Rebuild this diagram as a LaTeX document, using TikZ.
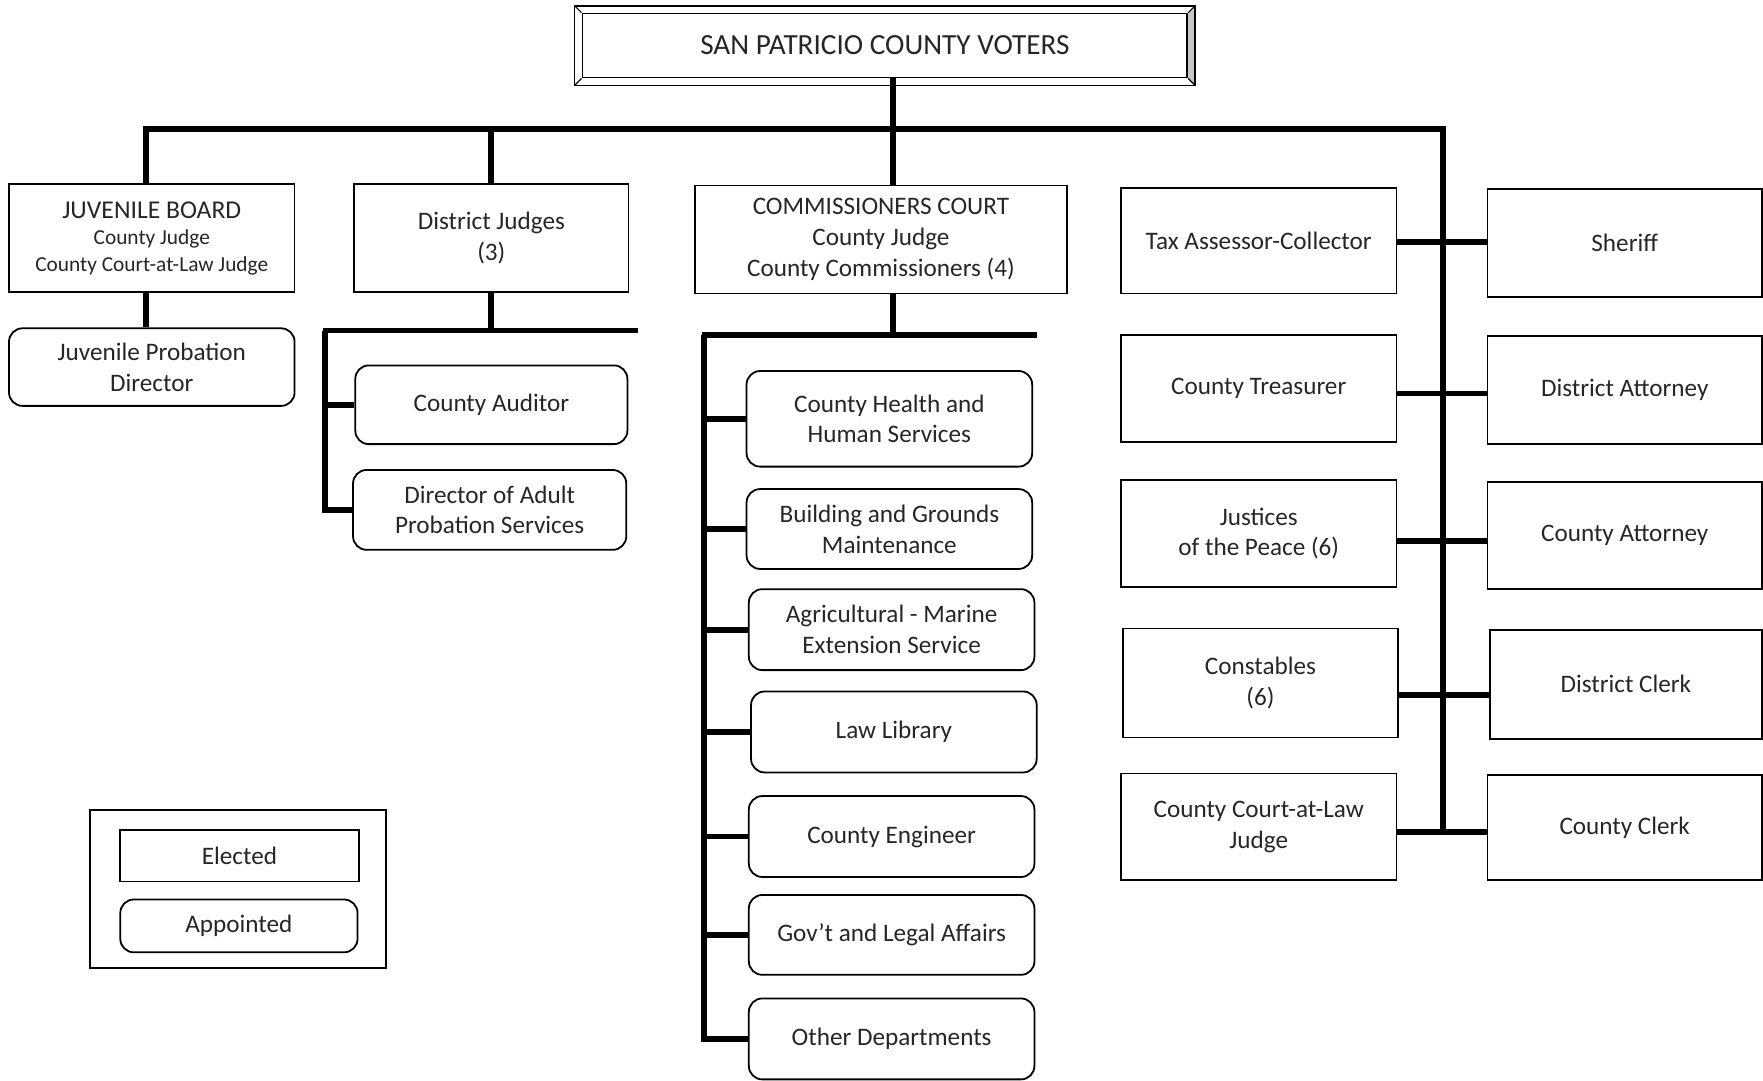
\documentclass[tikz,border=0pt]{standalone}
\usepackage{fontspec}
\setmainfont{Carlito}
\begin{document}
\begin{tikzpicture}[x=0.5pt,y=-0.5pt,
  elect/.style={draw, line width=0.8pt, align=center, inner sep=2pt, text=black!85,
    font=\fontsize{11.2}{13.7}\selectfont},
  appt/.style={elect, rounded corners=6pt},
  conn/.style={line width=2.6pt},
]
\useasboundingbox (0,0) rectangle (1568,961);

% ---------- top box ----------
\node[elect, minimum width=269pt, minimum height=28.5pt, font=\fontsize{13}{15}\selectfont] (voters) at (787,40.5) {SAN PATRICIO COUNTY VOTERS};
\coordinate (onw) at (511,5);
\coordinate (ose) at (1063,76);
\fill[gray!45] (voters.north east) -- (onw -| ose) -- (ose) -- (voters.south east) -- cycle;
\draw[line width=0.8pt] (onw) rectangle (ose);
\draw[line width=0.5pt] (onw) -- (voters.north west)
  (onw -| ose) -- (voters.north east)
  (ose) -- (voters.south east)
  (ose -| onw) -- (voters.south west);

% ---------- first level ----------
\node[elect, minimum width=127pt, minimum height=48pt, font=\fontsize{9.5}{11.8}\selectfont] (jb) at (135,212)
  {{\fontsize{11.4}{13}\selectfont JUVENILE BOARD}\\County Judge\\County Court-at-Law Judge};
\node[appt, minimum width=127pt, minimum height=34.5pt] (jpd) at (135,326.5) {Juvenile Probation\\Director};
\node[elect, minimum width=122pt, minimum height=48pt] (dj) at (437,212) {District Judges\\(3)};
\node[appt, minimum width=121pt, minimum height=35pt] (ca) at (437,360) {County Auditor};
\node[appt, minimum width=121.5pt, minimum height=35.5pt] (dap) at (435.5,453.5) {Director of Adult\\Probation Services};
\node[elect, minimum width=165.5pt, minimum height=48pt] (cc) at (783.5,213) {COMMISSIONERS COURT\\County Judge\\County Commissioners (4)};

% ---------- commissioners departments ----------
\node[appt, minimum width=127pt, minimum height=42.5pt] (chhs) at (791,372.5) {County Health and\\Human Services};
\node[appt, minimum width=127pt, minimum height=35.5pt] (bgm) at (791,470.5) {Building and Grounds\\Maintenance};
\node[appt, minimum width=127pt, minimum height=36pt] (ame) at (793,560) {Agricultural - Marine\\Extension Service};
\node[appt, minimum width=127pt, minimum height=36pt] (ll) at (795,651) {Law Library};
\node[appt, minimum width=127pt, minimum height=36pt] (ce) at (793,744) {County Engineer};
\node[appt, minimum width=127pt, minimum height=35.5pt] (gla) at (793,831.5) {Gov't and Legal Affairs};
\node[appt, minimum width=127pt, minimum height=36pt] (od) at (793,924) {Other Departments};

% ---------- elected officials ----------
\node[elect, minimum width=122.5pt, minimum height=47pt] (tac) at (1119.5,214) {Tax Assessor-Collector};
\node[elect, minimum width=122.5pt, minimum height=47.5pt] (ct) at (1119.5,345.5) {County Treasurer};
\node[elect, minimum width=122.5pt, minimum height=47.5pt] (jp) at (1119.5,474.5) {Justices\\of the Peace (6)};
\node[elect, minimum width=122pt, minimum height=48.5pt] (cons) at (1121,607.5) {Constables\\(6)};
\node[elect, minimum width=122.5pt, minimum height=47.5pt] (cclj) at (1119.5,735.5) {County Court-at-Law\\Judge};

\node[elect, minimum width=122pt, minimum height=48pt] (sh) at (1445,216) {Sheriff};
\node[elect, minimum width=122pt, minimum height=48pt] (da) at (1445,347) {District Attorney};
\node[elect, minimum width=122pt, minimum height=47.5pt] (coa) at (1445,476.5) {County Attorney};
\node[elect, minimum width=121pt, minimum height=48.5pt] (dc) at (1446,608.5) {District Clerk};
\node[elect, minimum width=122pt, minimum height=47pt] (coc) at (1445,736) {County Clerk};

% ---------- legend ----------
\node[draw, line width=0.9pt, minimum width=131.5pt, minimum height=70.5pt] (leg) at (211.5,790.5) {};
\node[elect, minimum width=106pt, minimum height=23pt] (el) at (213,761) {Elected};
\node[appt, minimum width=105.5pt, minimum height=23.5pt] (ap) at (212.5,823.5) {Appointed};

% ---------- connectors ----------
\coordinate (bl) at (130,115);
\coordinate (bt) at (794,115);
\coordinate (br) at (1283,115);
\draw[conn] (bt |- voters.south) -- (bt);
\draw[conn] (jb.north -| bl) -- (bl) -- (br) -- (1283,740);
\draw[conn] (dj.north) -- (dj.north |- bl);
\draw[conn] (cc.north -| bt) -- (bt);

\draw[conn] (jb.south -| bl) -- (jpd.north -| bl);

\coordinate (djb) at (289,294);
\draw[conn] (dj.south) -- (dj.south |- djb);
\draw[conn] (287,294) -- (567,294);
\draw[conn] (djb) -- (djb |- dap.west) -- (dap.west);
\draw[conn] (djb |- ca.west) -- (ca.west);

\coordinate (ccb) at (626,298);
\draw[conn] (cc.south -| bt) -- (bt |- ccb);
\draw[conn] (624,298) -- (922,298);
\draw[conn] (ccb) -- (ccb |- od.west) -- (od.west);
\foreach \n in {chhs,bgm,ame,ll,ce,gla}
  \draw[conn] (ccb |- \n.west) -- (\n.west);

\foreach \l/\r/\y in {tac/sh/215, ct/da/350, jp/coa/481, cons/dc/618, cclj/coc/740}{
  \coordinate (hy) at (1283,\y);
  \draw[conn] (\l.east |- hy) -- (\r.west |- hy);
}
\end{tikzpicture}
\end{document}
